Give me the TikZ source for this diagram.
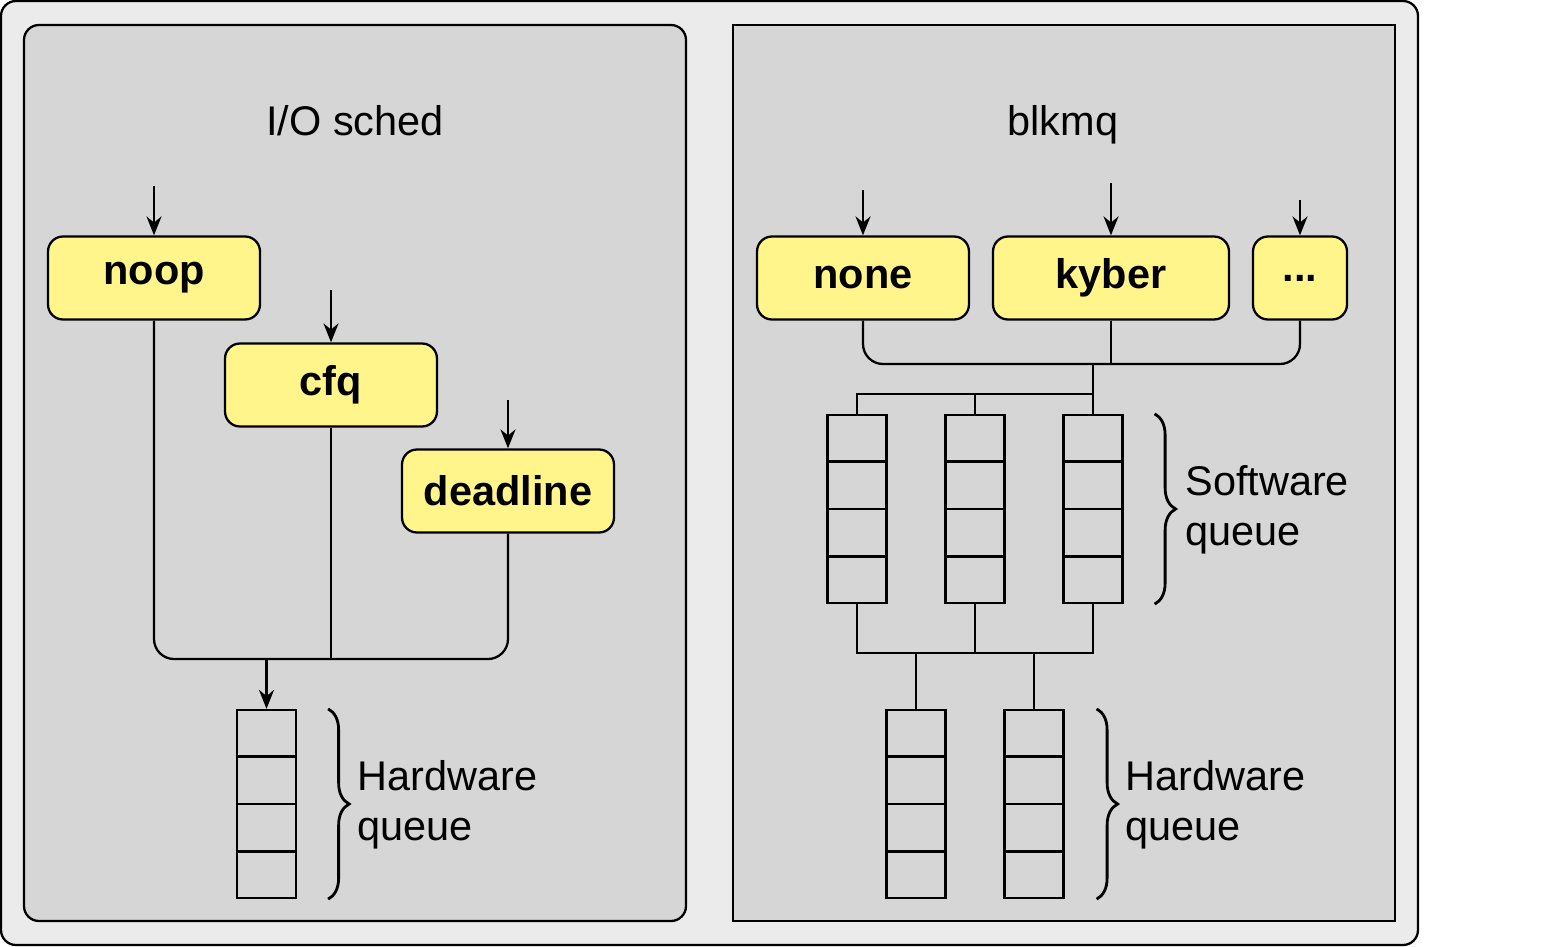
\documentclass[tikz,border=0pt]{standalone}
\usepackage{fontspec}
\setmainfont{Liberation Sans}
\usetikzlibrary{calc}
\usetikzlibrary{arrows.meta}
\usetikzlibrary{decorations.pathreplacing}
\usepackage{xcolor}
\definecolor{panelgray}{HTML}{D6D6D6}
\definecolor{outergray}{HTML}{EBEBEB}
\definecolor{schedyellow}{HTML}{FFF58A}

\tikzset{
  sched/.style={draw, line width=1.3pt, fill=schedyellow, rounded corners=0.3cm,
    minimum width=4.24cm, minimum height=1.66cm, inner sep=0pt,
    font=\fontsize{23.6}{28}\selectfont\bfseries},
  queue/.style={draw, line width=1.3pt, minimum width=1.18cm, minimum height=3.76cm, inner sep=0pt},
  qtext/.style={anchor=west, inner sep=0pt, align=left, font=\fontsize{23.6}{28.35}\selectfont},
  title/.style={anchor=base, inner sep=0pt, font=\fontsize{23.6}{28}\selectfont},
  link/.style={line width=1.3pt},
  feed/.style={line width=1.3pt, -{Stealth[length=0.38cm,width=0.3cm]}},
  curly/.style={line width=1.6pt, decorate, decoration={brace, amplitude=0.42cm}},
}
\newcommand{\qcells}[1]{%
  \foreach \k in {1,2,3}
    \draw[link] ($(#1.north west)!\k/4!(#1.south west)$) -- ($(#1.north east)!\k/4!(#1.south east)$);}

\begin{document}
\begin{tikzpicture}[x=0.02cm, y=-0.02cm]
\useasboundingbox (0,0) rectangle (1553,947);
% panels
\draw[line width=1.3pt, fill=outergray, rounded corners=0.3cm] (1,1) rectangle (1418,945);
\draw[line width=1.3pt, fill=panelgray, rounded corners=0.3cm] (24,25) rectangle (686,921);
\draw[line width=1.3pt, fill=panelgray] (733,25) rectangle (1395,921);
\node[title] (iotitle) at (355,135) {I/O sched};
\node[title] (mqtitle) at (1063,135) {blkmq};

% I/O sched side
\node[sched] (noop) at (154,278) {noop};
\node[sched] (cfq) at (331,385) {cfq};
\node[sched] (deadline) at (508,491) {deadline};
\coordinate (noopin) at ($(noop.north)+(0,-49)$);
\coordinate (cfqin) at ($(cfq.north)+(0,-52)$);
\coordinate (deadlinein) at ($(deadline.north)+(0,-48)$);
\draw[feed] (noopin) -- (noop.north);
\draw[feed] (cfqin) -- (cfq.north);
\draw[feed] (deadlinein) -- (deadline.north);
\coordinate (iojoin) at (331,659);
\draw[link, rounded corners=0.4cm] (noop.south) |- (iojoin) -| (deadline.south);
\draw[link] (cfq.south) -- (iojoin);
\node[queue] (hwq) at (266.5,804) {};
\qcells{hwq}
\draw[feed] (hwq.north |- iojoin) -- (hwq.north);
\draw[curly] ($(hwq.north east)+(31,0)$) -- ($(hwq.south east)+(31,0)$);
\node[qtext] (hwtext) at (357,805) {Hardware\\queue};

% blkmq side
\node[sched] (none) at (863,278) {none};
\node[sched, minimum width=4.72cm] (kyber) at (1111,278) {kyber};
\node[sched, minimum width=1.88cm] (dots) at (1300,278) {...};
\coordinate (nonein) at ($(none.north)+(0,-45)$);
\coordinate (kyberin) at ($(kyber.north)+(0,-52)$);
\coordinate (dotsin) at ($(dots.north)+(0,-35)$);
\draw[feed] (nonein) -- (none.north);
\draw[feed] (kyberin) -- (kyber.north);
\draw[feed] (dotsin) -- (dots.north);
\coordinate (mqjoin) at (1111,364);
\draw[link, rounded corners=0.4cm] (none.south) |- (mqjoin) -| (dots.south);
\draw[link] (kyber.south) -- (mqjoin);
\coordinate (mqdrop) at (1093,364);
\coordinate (swsplit) at (1093,394);
\coordinate (hwsplit) at (975,653);
\foreach \i/\x in {1/857,2/975,3/1093}{
  \node[queue] (sw\i) at (\x,509) {};
  \qcells{sw\i}
}
\foreach \i/\x in {1/916,2/1034}{
  \node[queue] (hw\i) at (\x,804) {};
  \qcells{hw\i}
}
\draw[link] (mqdrop) -- (sw3.north);
\draw[link] (sw1.north) |- (swsplit);
\draw[link] (sw2.north) -- (sw2.north |- swsplit);
\draw[link] (sw1.south) |- (hwsplit) -| (sw3.south);
\draw[link] (sw2.south) -- (hwsplit);
\draw[link] (hw1.north) -- (hw1.north |- hwsplit);
\draw[link] (hw2.north) -- (hw2.north |- hwsplit);
\draw[curly] ($(sw3.north east)+(31,0)$) -- ($(sw3.south east)+(31,0)$);
\node[qtext] (swtext) at (1185,510) {Software\\queue};
\draw[curly] ($(hw2.north east)+(32,0)$) -- ($(hw2.south east)+(32,0)$);
\node[qtext] (hwtext2) at (1125,805) {Hardware\\queue};
\end{tikzpicture}
\end{document}
